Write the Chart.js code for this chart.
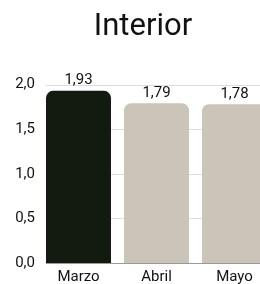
<!DOCTYPE html>
<html>
<head>
<meta charset="utf-8">
<script src="https://cdn.jsdelivr.net/npm/chart.js@4"></script>
<style>
  html, body { margin: 0; padding: 0; background: #fff; overflow: hidden; }
  #wrap { width: 286px; height: 284px; }
</style>
</head>
<body>
<div id="wrap"><canvas id="barChart" width="286" height="284"></canvas></div>
<script>
const meses = ["Marzo", "Abril", "Mayo"];
const valores = [1.93, 1.79, 1.78];
const colores = ["#131a10", "#cbc4b8", "#cbc4b8"];
const ticksY = [0, 0.5, 1, 1.5, 2];

const fmt = v => v.toFixed(v === Math.round(v * 10) / 10 ? 1 : 2).replace(".", ",");

// grid lines start at the first bar, labels over each bar
const extras = {
    id: "extras",
    beforeDatasetsDraw(chart) {
        const ctx = chart.ctx;
        const y = chart.scales.y;
        const bar0 = chart.getDatasetMeta(0).data[0];
        const left = bar0.x - bar0.width / 2;
        ctx.save();
        ticksY.forEach(t => {
            const py = Math.round(y.getPixelForValue(t)) + 0.5;
            ctx.strokeStyle = t === 0 ? "#9a9a9a" : "#dddddd";
            ctx.lineWidth = 1;
            ctx.beginPath();
            ctx.moveTo(left, py);
            ctx.lineTo(chart.width, py);
            ctx.stroke();
        });
        ctx.restore();
    },
    afterDatasetsDraw(chart) {
        const ctx = chart.ctx;
        ctx.save();
        ctx.font = "15px Roboto";
        ctx.fillStyle = "#111";
        ctx.textAlign = "center";
        ctx.textBaseline = "alphabetic";
        chart.getDatasetMeta(0).data.forEach((bar, i) => {
            ctx.fillText(fmt(valores[i]), bar.x, bar.y - 6.5);
        });
        ctx.restore();
    }
};

new Chart(document.getElementById("barChart"), {
    type: "bar",
    data: {
        labels: meses,
        datasets: [{
            data: valores,
            backgroundColor: colores,
            borderRadius: 7,
            borderSkipped: "bottom",
            categoryPercentage: 65 / 78,
            barPercentage: 1
        }]
    },
    options: {
        responsive: false,
        animation: false,
        layout: { padding: { left: 12.5, right: 12.5, top: 0, bottom: 0 } },
        plugins: {
            legend: { display: false },
            tooltip: { enabled: false },
            title: {
                display: true,
                text: "Interior",
                color: "#111",
                font: { family: "Roboto", size: 31, weight: "normal" },
                padding: { top: 9, bottom: 38.4 }
            }
        },
        scales: {
            x: {
                afterFit(scale) { scale.height = 21; },
                grid: { display: false, drawTicks: false },
                border: { display: false },
                ticks: { color: "#111", font: { family: "Roboto", size: 15 }, padding: 5 }
            },
            y: {
                min: 0,
                max: 2,
                afterFit(scale) { scale.width = 27; },
                grid: { display: false, drawTicks: false },
                border: { display: false },
                ticks: {
                    stepSize: 0.5,
                    color: "#111",
                    padding: 4.5,
                    font: { family: "Roboto", size: 15 },
                    callback: v => fmt(v)
                }
            }
        }
    },
    plugins: [extras]
});
</script>
</body>
</html>
